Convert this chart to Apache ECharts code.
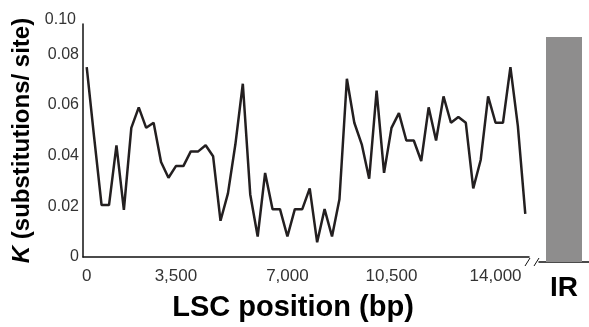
<!DOCTYPE html>
<html>
<head>
<meta charset="utf-8">
<script src="https://cdn.jsdelivr.net/npm/echarts@6/dist/echarts.min.js"></script>
<style>
html, body { margin: 0; padding: 0; background: #fff; }
#chart { width: 589px; height: 327px; }
</style>
</head>
<body>
<div id="chart"></div>
<script>
// K per window along the LSC
var kValues = [
    0.0750, 0.0472, 0.0205, 0.0205, 0.0441, 0.0186, 0.0510, 0.0591, 0.0510, 0.0530,
    0.0375, 0.0313, 0.0359, 0.0359, 0.0417, 0.0417, 0.0441, 0.0398, 0.0143, 0.0251,
    0.0445, 0.0684, 0.0247, 0.0081, 0.0332, 0.0189, 0.0189, 0.0081, 0.0189, 0.0189,
    0.0271, 0.0058, 0.0189, 0.0081, 0.0228, 0.0704, 0.0530, 0.0445, 0.0309, 0.0657,
    0.0332, 0.0510, 0.0568, 0.0460, 0.0460, 0.0379, 0.0591, 0.0460, 0.0634, 0.0530,
    0.0553, 0.0530, 0.0271, 0.0383, 0.0634, 0.0530, 0.0530, 0.0750, 0.0518, 0.0170
];
var tickIndex = [0, 12, 27, 41, 55];
var tickLabels = ['0', '3,500', '7,000', '10,500', '14,000'];
var irCategory = ['IR'];
var irValue = [0.0870];

var FONT = '"Liberation Sans", Arial, sans-serif';
var windows = kValues.map(function (v, i) { return i; });

var myChart = echarts.init(document.getElementById('chart'));

var option = {
    animation: false,
    grid: [
        { left: 83, top: 24, width: 446, height: 238 },
        { left: 539, top: 24, width: 50, height: 238 }
    ],
    xAxis: [
        {
            gridIndex: 0,
            type: 'category',
            data: windows,
            boundaryGap: true,
            axisLine: { lineStyle: { color: '#111', width: 1.5 } },
            axisTick: { show: false },
            axisLabel: {
                interval: function (idx) { return tickIndex.indexOf(idx) >= 0; },
                formatter: function (val, idx) { return tickLabels[tickIndex.indexOf(Number(val))]; },
                fontFamily: FONT,
                fontSize: 17,
                color: '#333',
                margin: 11
            },
            name: 'LSC position (bp)',
            nameLocation: 'middle',
            nameGap: 36,
            nameTextStyle: {
                fontFamily: FONT,
                fontWeight: 'bold',
                fontSize: 29,
                color: '#000',
                padding: [0, 26, 0, 0]
            }
        },
        {
            gridIndex: 1,
            type: 'category',
            data: irCategory,
            axisLine: { lineStyle: { color: '#111', width: 1.5 } },
            axisTick: { show: false },
            axisLabel: {
                fontFamily: FONT,
                fontWeight: 'bold',
                fontSize: 28,
                color: '#000',
                margin: 12
            }
        }
    ],
    yAxis: [
        {
            gridIndex: 0,
            type: 'value',
            min: 0,
            max: 0.092,
            interval: 0.02,
            splitLine: { show: false },
            axisTick: { show: false },
            axisLine: { show: true, lineStyle: { color: '#111', width: 1.5 } },
            axisLabel: {
                fontFamily: FONT,
                fontSize: 16,
                color: '#333',
                margin: 4,
                formatter: function (v) {
                    if (v === 0) return '0';
                    if (v > 0.09) return '{top|0.10}';
                    return v.toFixed(2);
                },
                rich: {
                    top: { fontFamily: FONT, fontSize: 16, color: '#333', padding: [0, 3, 8, 0] }
                }
            },
            name: '{k|K}{b| (substitutions/ site)}',
            nameLocation: 'middle',
            nameGap: 41,
            nameTextStyle: {
                rich: {
                    k: { fontFamily: FONT, fontSize: 24, fontWeight: 'bold', fontStyle: 'italic', color: '#000' },
                    b: { fontFamily: FONT, fontSize: 24, fontWeight: 'bold', color: '#000' }
                }
            }
        },
        {
            gridIndex: 1,
            type: 'value',
            min: 0,
            max: 0.092,
            show: false
        }
    ],
    series: [
        {
            type: 'line',
            xAxisIndex: 0,
            yAxisIndex: 0,
            data: kValues,
            symbol: 'none',
            lineStyle: { color: '#231f20', width: 2.5 }
        },
        {
            type: 'bar',
            xAxisIndex: 1,
            yAxisIndex: 1,
            data: irValue,
            barWidth: 36,
            itemStyle: { color: '#8e8d8d' }
        }
    ],
    graphic: [
        { type: 'line', shape: { x1: 525, y1: 266, x2: 530, y2: 258 }, style: { stroke: '#111', lineWidth: 1 } },
        { type: 'line', shape: { x1: 534, y1: 266, x2: 539, y2: 258 }, style: { stroke: '#111', lineWidth: 1 } }
    ]
};

myChart.setOption(option);
</script>
</body>
</html>
